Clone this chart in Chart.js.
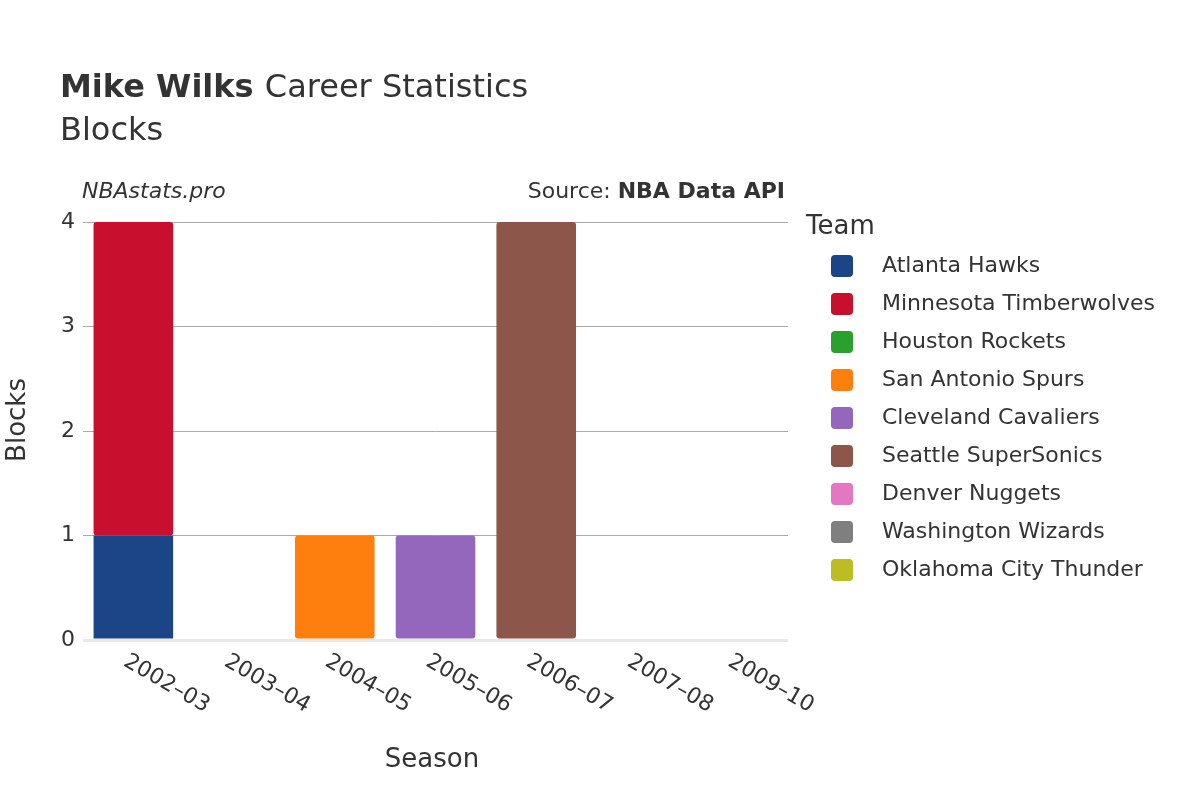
<!DOCTYPE html>
<html>
<head>
<meta charset="utf-8">
<script src="https://cdn.jsdelivr.net/npm/chart.js@4"></script>
<style>body{margin:0;background:#fff}</style>
</head>
<body>
<canvas id="c" width="1200" height="800"></canvas>
<script>
const seasons = ['2002–03', '2003–04', '2004–05', '2005–06', '2006–07', '2007–08', '2009–10'];
const teams = ['Atlanta Hawks', 'Minnesota Timberwolves', 'Houston Rockets', 'San Antonio Spurs',
  'Cleveland Cavaliers', 'Seattle SuperSonics', 'Denver Nuggets', 'Washington Wizards', 'Oklahoma City Thunder'];
const colors = ['#1c4587', '#c8102e', '#2ca02c', '#ff7f0e', '#9467bd', '#8c564b', '#e377c2', '#7f7f7f', '#bcbd22'];
const atlanta = [1, null, null, null, null, null, null];
const minnesota = [3, null, null, null, null, null, null];
const houston = [null, 0, null, null, null, null, null];
const sanAntonio = [null, null, 1, null, null, null, null];
const cleveland = [null, null, null, 1, null, null, null];
const seattle = [null, null, null, null, 4, null, null];
const denver = [null, null, null, null, null, 0, null];
const washington = [null, null, null, null, null, 0, null];
const okc = [null, null, null, null, null, null, 0];
const series = [atlanta, minnesota, houston, sanAntonio, cleveland, seattle, denver, washington, okc];

const FONT = '"DejaVu Sans", sans-serif';
const txt = '#333';

const decor = {
  id: 'decor',
  afterDraw(chart) {
    const c = chart.ctx;
    c.save();
    c.fillStyle = txt;
    c.textBaseline = 'middle';
    c.textAlign = 'left';
    c.font = 'bold 32px ' + FONT;
    c.fillText('Mike Wilks', 60, 89);
    const w = c.measureText('Mike Wilks ').width;
    c.font = '32px ' + FONT;
    c.fillText('Career Statistics', 60 + w, 89);
    c.fillText('Blocks', 60, 132);

    c.font = 'italic 22px ' + FONT;
    c.fillText('NBAstats.pro', 82, 192);
    c.textAlign = 'right';
    c.font = 'bold 22px ' + FONT;
    c.fillText('NBA Data API', 785, 192);
    const bw = c.measureText('NBA Data API').width;
    c.font = '22px ' + FONT;
    c.fillText('Source: ', 785 - bw, 192);

    // x tick labels, rotated
    const xs = chart.scales.x;
    c.font = '22px ' + FONT;
    c.textAlign = 'left';
    seasons.forEach((s, i) => {
      const x = xs.getPixelForTick(i);
      c.save();
      c.translate(x - 8, 660);
      c.rotate(Math.PI / 6);
      c.fillText(s, 0, 0);
      c.restore();
    });

    c.textAlign = 'center';
    c.font = '26px ' + FONT;
    c.fillText('Season', 432, 760);
    c.save();
    c.translate(18, 420);
    c.rotate(-Math.PI / 2);
    c.fillText('Blocks', 0, 0);
    c.restore();

    // legend
    c.textAlign = 'left';
    c.font = '26px ' + FONT;
    c.fillText('Team', 806, 227);
    c.font = '22px ' + FONT;
    teams.forEach((t, i) => {
      const y = 266 + i * 38;
      c.fillStyle = colors[i];
      c.beginPath();
      c.roundRect(831, y - 11, 22, 22, 4);
      c.fill();
      c.fillStyle = txt;
      c.fillText(t, 882, y);
    });
    c.restore();
  }
};

new Chart(document.getElementById('c'), {
  type: 'bar',
  data: {
    labels: seasons,
    datasets: teams.map((t, i) => ({
      label: t,
      data: series[i],
      backgroundColor: colors[i],
      borderRadius: 3,
      borderSkipped: false,
      barPercentage: 0.79,
      categoryPercentage: 1
    }))
  },
  options: {
    responsive: false,
    animation: false,
    layout: { padding: { top: 222, left: 23, right: 412, bottom: 0 } },
    plugins: { legend: { display: false }, tooltip: { enabled: false } },
    scales: {
      x: {
        stacked: true,
        grid: { display: false },
        border: { display: false },
        ticks: { display: false },
        afterFit: s => { s.height = 160; }
      },
      y: {
        stacked: true,
        min: 0, max: 4,
        ticks: { stepSize: 1, color: txt, font: { family: FONT, size: 22 }, padding: 8 },
        grid: { color: ctx => ctx.tick.value === 0 ? '#e8e8e8' : '#aaa', lineWidth: ctx => ctx.tick.value === 0 ? 3 : 1, drawTicks: false },
        border: { display: false },
        afterFit: s => { s.width = 60; }
      }
    }
  },
  plugins: [decor]
});
</script>
</body>
</html>
